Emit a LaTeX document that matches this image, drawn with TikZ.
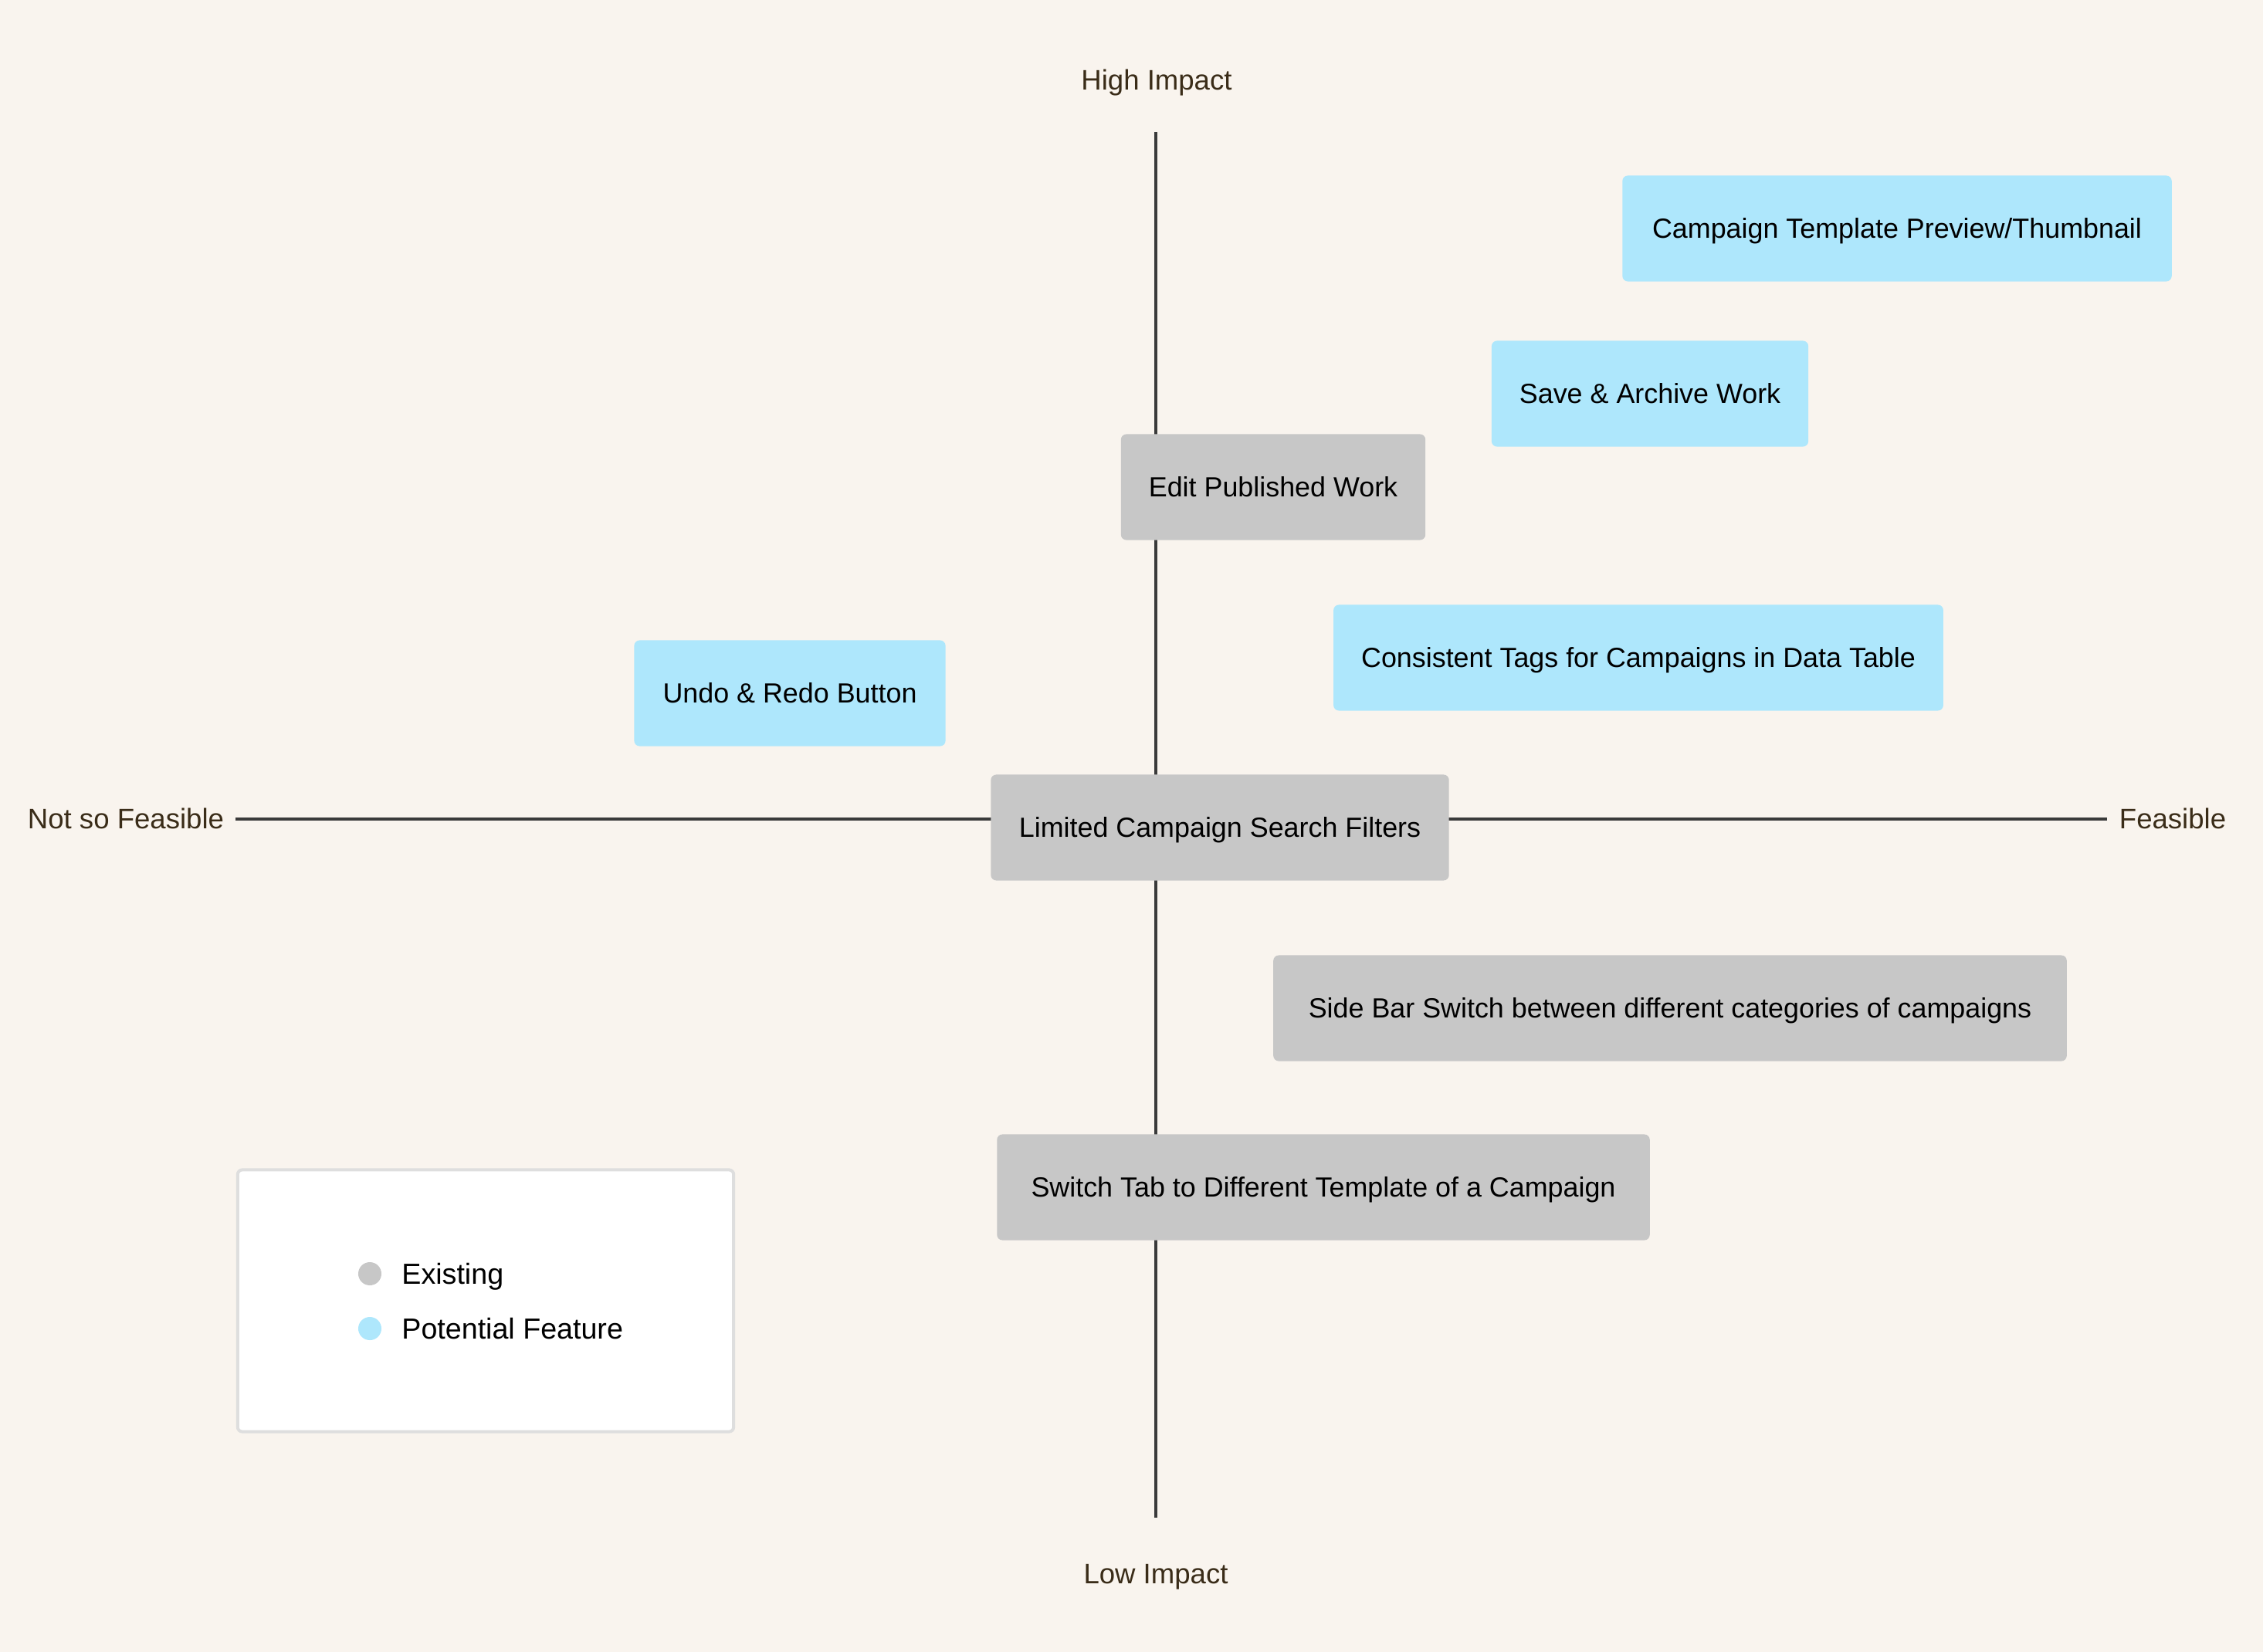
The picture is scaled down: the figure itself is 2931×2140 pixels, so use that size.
\documentclass[tikz,border=0pt]{standalone}
\usepackage{fontspec}
\setmainfont{Liberation Sans}
\usetikzlibrary{positioning}
\definecolor{paper}{RGB}{249,244,238}
\definecolor{oldgray}{RGB}{199,199,199}
\definecolor{newblue}{RGB}{174,231,252}
\definecolor{axisgray}{RGB}{58,58,58}
\definecolor{labelbrown}{RGB}{58,44,24}
\definecolor{legendedge}{RGB}{222,222,222}
\tikzset{
  item/.style={rounded corners=0.07cm, minimum height=1.37cm, inner xsep=0.36cm, inner ysep=0pt, text height=7.3pt, text depth=0pt, font=\fontsize{10.2}{12}\selectfont},
  existing/.style={item, fill=oldgray},
  potential/.style={item, fill=newblue},
  axis/.style={line width=0.04cm, draw=axisgray},
  axislabel/.style={font=\fontsize{10.4}{12}\selectfont, text=labelbrown, inner sep=0pt, text height=7.45pt, text depth=0pt},
  legtext/.style={font=\fontsize{10.7}{12}\selectfont, inner sep=0pt, text height=7.66pt, text depth=0pt, anchor=west},
  dot/.style={circle, inner sep=0pt, minimum size=0.3cm},
}

\begin{document}
\begin{tikzpicture}[x=0.01cm, y=-0.01cm]
    \fill[paper] (0,0) rectangle (2931,2140);
    % axes
    \coordinate (top) at (1497,171);
    \coordinate (bottom) at (1497,1966);
    \coordinate (left) at (305,1061);
    \coordinate (right) at (2729,1061);
    \draw[axis] (top) -- (bottom);
    \draw[axis] (left) -- (right);
    \node[axislabel] (high) at (1498,103) {High Impact};
    \node[axislabel] (low) at (1497,2038) {Low Impact};
    \node[axislabel] (notfeas) at (163,1060) {Not so Feasible};
    \node[axislabel] (feas) at (2814,1060) {Feasible};
    % features
    \node[potential, minimum width=7.11cm] (thumb) at (2457,296) {Campaign Template Preview/Thumbnail};
    \node[potential, minimum width=4.08cm] (save) at (2137,510) {Save \& Archive Work};
    \node[existing, minimum width=3.94cm] (edit) at (1649,631) {Edit Published Work};
    \node[potential, minimum width=7.87cm] (tags) at (2122,852) {Consistent Tags for Campaigns in Data Table};
    \node[potential, minimum width=4.03cm] (undo) at (1023,898) {Undo \& Redo Button};
    \node[existing, minimum width=5.93cm] (filters) at (1580,1072) {Limited Campaign Search Filters};
    \node[existing, minimum width=10.27cm] (sidebar) at (2163,1306) {Side Bar Switch between different categories of campaigns};
    \node[existing, minimum width=8.45cm] (tabs) at (1714,1538) {Switch Tab to Different Template of a Campaign};
    % legend
    \node[draw=legendedge, line width=0.04cm, fill=white, rounded corners=0.06cm, minimum width=6.42cm, minimum height=3.39cm] (legend) at (629,1685) {};
    \node[dot, fill=oldgray] (dotold) at (479,1650) {};
    \node[dot, fill=newblue] (dotnew) at (479,1721) {};
    \node[legtext, right=0.25cm of dotold] (txtold) {Existing};
    \node[legtext, right=0.25cm of dotnew] (txtnew) {Potential Feature};
  \end{tikzpicture}
\end{document}
